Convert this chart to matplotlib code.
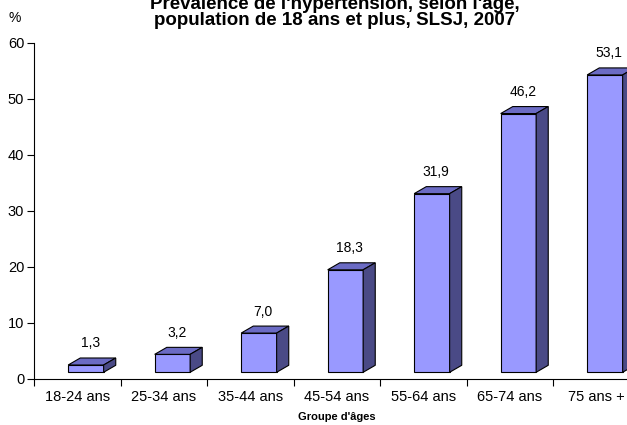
import matplotlib.pyplot as plt
from matplotlib.patches import Polygon

plt.rcParams['font.family'] = ['Liberation Sans', 'DejaVu Sans']

categories = ["18-24 ans", "25-34 ans", "35-44 ans", "45-54 ans",
              "55-64 ans", "65-74 ans", "75 ans +"]
values = [1.3, 3.2, 7.0, 18.3, 31.9, 46.2, 53.1]
labels = ["1,3", "3,2", "7,0", "18,3", "31,9", "46,2", "53,1"]

front = "#9999ff"
top = "#6b6bc4"
side = "#4a4a86"

fig = plt.figure(figsize=(6.27, 4.25), dpi=100)
ax = fig.add_axes([34 / 627, 1 - 379 / 425, 605.5 / 627, 336 / 425])

base = 1.2      # front face floats a little above the floor
w = 0.41        # front face width
off = 0.1       # shift of front face right of category centre
dx, dy = 0.14, 1.25  # depth of the 3d effect

for i, v in enumerate(values):
    x0 = i - w / 2 + off
    x1 = x0 + w
    y0 = base
    y1 = base + v
    faces = [
        ([(x0, y0), (x1, y0), (x1, y1), (x0, y1)], front),
        ([(x0, y1), (x1, y1), (x1 + dx, y1 + dy), (x0 + dx, y1 + dy)], top),
        ([(x1, y0), (x1 + dx, y0 + dy), (x1 + dx, y1 + dy), (x1, y1)], side),
    ]
    for pts, c in faces:
        ax.add_patch(Polygon(pts, closed=True, facecolor=c, edgecolor="black",
                             linewidth=0.8, clip_on=False, zorder=3))
    ax.text(i + off + 0.05, y1 + dy + 2.6, labels[i], ha="center", va="center",
            fontsize=10)

ax.set_xlim(-0.5, 6.5)
ax.set_ylim(0, 60)
ax.set_yticks(range(0, 61, 10))
ax.set_xticks([i + 0.5 for i in range(-1, 7)], minor=False)
ax.set_xticklabels([])
ax.set_xticks(range(7), minor=True)
ax.set_xticklabels(categories, minor=True, fontsize=10.5)
ax.tick_params(axis="x", which="minor", length=0, pad=8)
ax.tick_params(axis="x", which="major", length=5, direction="out")
ax.tick_params(axis="y", length=5, direction="out", labelsize=10.5, pad=2)
ax.spines["top"].set_visible(False)
ax.spines["right"].set_visible(False)

ax.set_xlabel("Groupe d'âges", fontsize=8, fontweight="bold", labelpad=6)
fig.text(15 / 627, 1 - 18 / 425, "%", ha="center", va="center", fontsize=10)

fig.text(335 / 627, 1 - 29 / 425,
         "Prévalence de l'hypertension, selon l'âge,\npopulation de 18 ans et plus, SLSJ, 2007",
         ha="center", va="bottom", fontsize=13.5, fontweight="bold", linespacing=0.95)

fig.savefig("out.png", dpi=100)
